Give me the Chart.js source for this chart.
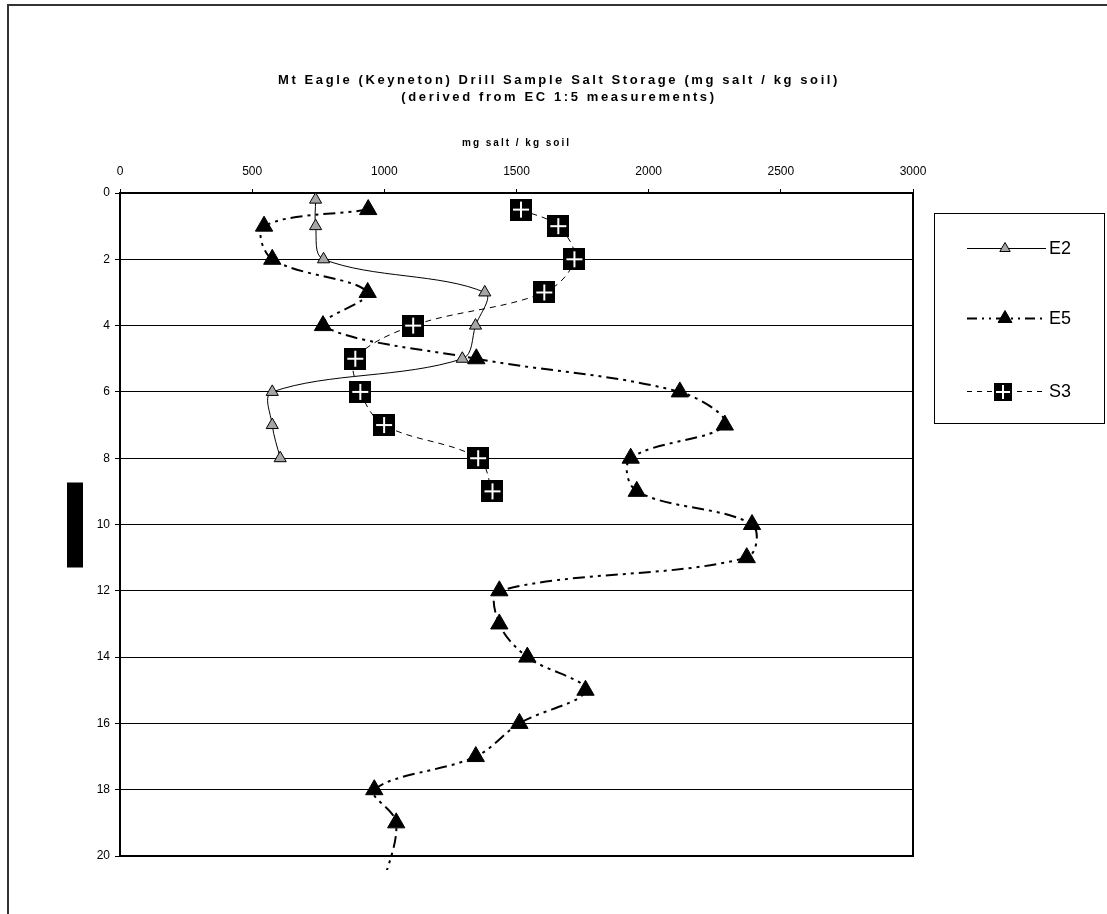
<!DOCTYPE html>
<html>
<head>
<meta charset="utf-8">
<script src="https://cdn.jsdelivr.net/npm/chart.js@4.4.1/dist/chart.umd.min.js"></script>
<style>
    html, body { margin: 0; padding: 0; background: #fff; }
    #wrap { position: relative; width: 1107px; height: 914px; overflow: hidden; }
    #frame { position: absolute; left: 7px; top: 4px; width: 1200px; height: 1000px; border-top: 2px solid #333; border-left: 2px solid #333; }
    #saltChart { position: absolute; left: 0; top: 0; }
</style>
</head>
<body>
<div id="wrap">
    <div id="frame"></div>
    <canvas id="saltChart" width="1107" height="914"></canvas>
</div>
<script>
// --- data (depth in m, salt in mg/kg) ---
const depthE2 = [0.2, 1, 2, 3, 4, 5, 6, 7, 8];
const saltE2 = [740, 740, 770, 1380, 1345, 1295, 576, 576, 606];

const depthE5 = [0.5, 1, 2, 3, 4, 5, 6, 7, 8, 9, 10, 11, 12, 13, 14, 15, 16, 17, 18, 19, 21];
const saltE5 = [939, 545, 576, 937, 768, 1348, 2118, 2288, 1932, 1955, 2391, 2371, 1435, 1435, 1541, 1761, 1511, 1346, 962, 1045, 990];

const depthS3 = [0.5, 1, 2, 3, 4, 5, 6, 7, 8, 9];
const saltS3 = [1517, 1658, 1719, 1605, 1109, 890, 909, 999, 1355, 1409];

const seriesNames = ['E2', 'E5', 'S3'];
const titleLines = ['Mt Eagle (Keyneton) Drill Sample Salt Storage (mg salt / kg soil)', '(derived from EC 1:5 measurements)'];
const xAxisTitle = 'mg salt / kg soil';

const fontFamily = "'Liberation Sans', Arial, sans-serif";

// black square marker with a white cross
function plusSquare(size) {
    const c = document.createElement('canvas');
    c.width = size; c.height = size;
    const g = c.getContext('2d');
    g.fillStyle = '#000';
    g.fillRect(0, 0, size, size);
    g.strokeStyle = '#fff';
    g.lineWidth = 2;
    const m = size / 2, a = Math.round(size * 0.38);
    g.beginPath();
    g.moveTo(m - a, m); g.lineTo(m + a, m);
    g.moveTo(m, m - a); g.lineTo(m, m + a);
    g.stroke();
    return c;
}
const s3Marker = plusSquare(22);
const s3LegendMarker = plusSquare(18);

const toPoints = (xs, ys) => xs.map((x, i) => ({ x: x, y: ys[i] }));

// titles, plot frame, odd black block and the boxed legend
const decorPlugin = {
    id: 'decor',
    beforeDatasetsDraw(chart) {
        const { ctx, chartArea: a } = chart;
        ctx.save();
        ctx.strokeStyle = '#000';
        ctx.lineWidth = 2;
        ctx.strokeRect(a.left, a.top, a.right - a.left, a.bottom - a.top);
        // y axis title comes out as a solid block in the original
        ctx.fillStyle = '#000';
        ctx.fillRect(a.left - 53, (a.top + a.bottom) / 2 - 42, 16, 85);
        ctx.restore();
    },
    afterDraw(chart) {
        const { ctx, chartArea: a } = chart;
        ctx.save();
        ctx.fillStyle = '#000';
        ctx.textAlign = 'center';
        ctx.textBaseline = 'middle';
        ctx.font = 'bold 13px ' + fontFamily;
        ctx.letterSpacing = '2.6px';
        ctx.fillText(titleLines[0], 559, 80);
        ctx.fillText(titleLines[1], 559, 97);
        ctx.font = 'bold 10px ' + fontFamily;
        ctx.letterSpacing = '2px';
        ctx.fillText(xAxisTitle, (a.left + a.right) / 2, 143);
        ctx.letterSpacing = '0px';

        // legend
        const box = { left: 934, top: 213, right: 1104, bottom: 423 };
        ctx.strokeStyle = '#000';
        ctx.lineWidth = 1;
        ctx.strokeRect(box.left + 0.5, box.top + 0.5, box.right - box.left, box.bottom - box.top);
        const rowY = [248.5, 318.5, 391.5];
        const dashes = [[], [10, 5, 2, 5, 2, 5], [5, 5]];
        const widths = [1, 2, 1];
        ctx.textAlign = 'left';
        ctx.font = '18px ' + fontFamily;
        chart.data.datasets.forEach((ds, i) => {
            const y = rowY[i];
            ctx.save();
            ctx.strokeStyle = '#000';
            ctx.lineWidth = widths[i];
            ctx.setLineDash(dashes[i]);
            ctx.beginPath();
            ctx.moveTo(967, y);
            ctx.lineTo(1046, y);
            ctx.stroke();
            ctx.restore();
            if (i === 2) {
                ctx.drawImage(s3LegendMarker, 1003 - 9, Math.round(y) - 9);
            } else {
                ctx.save();
                ctx.fillStyle = ds.pointBackgroundColor;
                ctx.strokeStyle = '#000';
                ctx.lineWidth = 1;
                Chart.helpers.drawPoint(ctx, { pointStyle: 'triangle', radius: i === 0 ? 6 : 8, borderWidth: 1, rotation: 0 }, 1005, y);
                ctx.restore();
            }
            ctx.fillStyle = '#000';
            ctx.fillText(ds.label, 1049, y + 1);
        });
        ctx.restore();
    }
};

new Chart(document.getElementById('saltChart'), {
    type: 'scatter',
    data: {
        datasets: [
            {
                label: seriesNames[0],
                data: toPoints(saltE2, depthE2),
                showLine: true,
                borderColor: '#000',
                borderWidth: 1,
                tension: 0.35,
                pointStyle: 'triangle',
                pointRadius: 7,
                pointHoverRadius: 7,
                pointBackgroundColor: '#a6a6a6',
                pointBorderColor: '#000',
                pointBorderWidth: 1
            },
            {
                label: seriesNames[1],
                data: toPoints(saltE5, depthE5),
                showLine: true,
                borderColor: '#000',
                borderWidth: 2,
                borderDash: [12, 5, 3, 5, 3, 5],
                tension: 0.35,
                pointStyle: 'triangle',
                pointRadius: 10,
                pointHoverRadius: 10,
                pointBackgroundColor: '#000',
                pointBorderColor: '#000',
                pointBorderWidth: 1,
                clip: { left: 0, top: 0, right: 0, bottom: 14 }
            },
            {
                label: seriesNames[2],
                data: toPoints(saltS3, depthS3),
                showLine: true,
                borderColor: '#000',
                borderWidth: 1,
                borderDash: [6, 5],
                tension: 0.35,
                pointStyle: s3Marker,
                pointRadius: 11,
                pointHoverRadius: 11
            }
        ]
    },
    options: {
        responsive: false,
        animation: false,
        layout: { padding: { left: 0, top: 0, right: 194, bottom: 58 } },
        plugins: {
            legend: { display: false },
            title: { display: false },
            tooltip: { enabled: false }
        },
        scales: {
            x: {
                type: 'linear',
                position: 'top',
                min: 0,
                max: 3000,
                ticks: { stepSize: 500, color: '#000', padding: 10, font: { family: fontFamily, size: 12 }, callback: v => String(v) },
                grid: { drawOnChartArea: false, drawTicks: true, tickLength: 4, color: '#000' },
                border: { color: '#000', width: 2 },
                afterFit: scale => { scale.height = 193; }
            },
            y: {
                type: 'linear',
                reverse: true,
                min: 0,
                max: 20,
                ticks: { stepSize: 2, color: '#000', padding: 5, font: { family: fontFamily, size: 12 }, callback: v => String(v) },
                grid: { color: '#000', lineWidth: 1, tickLength: 5 },
                border: { color: '#000', width: 2 },
                afterFit: scale => { scale.width = 120; }
            }
        }
    },
    plugins: [decorPlugin]
});
</script>
</body>
</html>
